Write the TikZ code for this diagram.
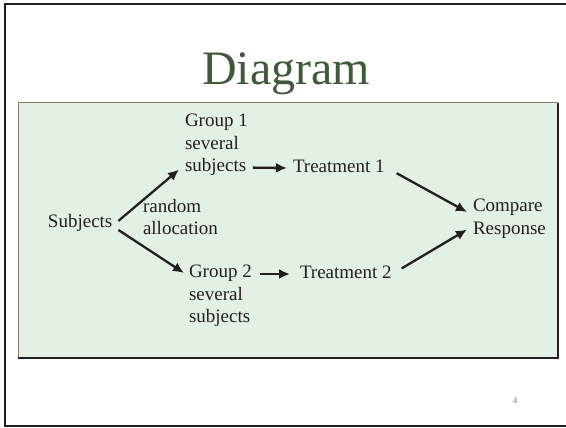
\documentclass[tikz,border=0pt]{standalone}
\usepackage{fontspec}
\setmainfont{Liberation Serif}
\definecolor{ink}{RGB}{35,31,32}
\definecolor{slide-green}{RGB}{227,240,228}
\definecolor{title-green}{RGB}{62,90,56}
\definecolor{frame-gray}{RGB}{125,125,118}
\usetikzlibrary{arrows.meta}

\begin{document}
\begin{tikzpicture}[%
            x=1pt,y=-1pt,
            label text/.style={%
              ink,
              font=\fontsize{19}{22.5}\selectfont,
              inner sep=0pt,
              outer sep=0pt,
            },
            block text/.style={label text,align=left,anchor=north west},
            line text/.style={label text,anchor=base west},
            flow/.style={ink,line width=2.3pt,-{Latex[length=11pt,width=10pt]}},
          ]
            \useasboundingbox (0,0) rectangle (566,428);
            \draw [ink,line width=2pt] (5,426) -- (5,4.5) -- (566,4.5);
            \draw [ink,line width=2pt] (4,426) -- (566,426);

            \node [title-green,font=\fontsize{48}{48}\selectfont,anchor=base] (title) at (286,85) {Diagram};

            \fill [slide-green] (18,103) rectangle (558,358);
            \draw [frame-gray,line width=1pt] (18,358) -- (18,103) -- (558,103);
            \draw [ink,line width=1.5pt] (558,103) -- (558,358) -- (18,358);

            \node [line text] (subjects) at (48,227) {Subjects};
            \node [block text] (group 1) at (185,114) {Group 1\\several\\subjects};
            \node [block text] (allocation) at (143,199) {random\\allocation};
            \node [block text] (group 2) at (189,265) {Group 2\\several\\subjects};
            \node [line text] (treatment 1) at (293,172) {Treatment 1};
            \node [line text] (treatment 2) at (300,278) {Treatment 2};
            \node [block text] (compare) at (473,199) {Compare\\Response};

            \draw [flow] ([shift={(6pt,1.5pt)}]subjects.east) -- ([shift={(-6pt,6pt)}]group 1.south west);
            \draw [flow] ([shift={(6pt,-7.5pt)}]subjects.east) -- ([shift={(-5pt,-8pt)}]group 2.north west);
            \draw [flow] ([shift={(5pt,8pt)}]group 1.south east) -- ([shift={(-6pt,4pt)}]treatment 1.base west);
            \draw [flow] ([shift={(8pt,-9pt)}]group 2.north east) -- ([shift={(-10pt,4pt)}]treatment 2.base west);
            \draw [flow] ([shift={(12pt,-1pt)}]treatment 1.south east) -- ([shift={(-6pt,-13pt)}]compare.north west);
            \draw [flow] ([shift={(10pt,-3pt)}]treatment 2.north east) -- ([shift={(-6pt,8.5pt)}]compare.south west);

            \node [gray,font=\fontsize{9}{9}\selectfont] (page) at (515,401) {4};
          \end{tikzpicture}
\end{document}
